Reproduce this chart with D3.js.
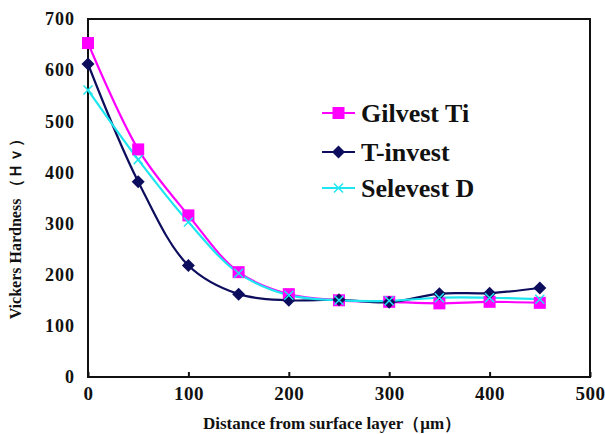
<!DOCTYPE html>
<html><head><meta charset="utf-8">
<script src="https://cdn.jsdelivr.net/npm/d3@7"></script>
<style>body{margin:0;background:#fff}svg{display:block}</style>
</head><body>
<svg id="c" width="605" height="434"></svg>
<script>
const distances = [0, 50, 100, 150, 200, 250, 300, 350, 400, 450];
const gilvestTi = [653, 445, 316, 205, 162, 150, 147, 144, 147, 145];
const tInvest   = [612, 382, 218, 162, 150, 151, 146, 163, 164, 174];
const selevestD = [561, 425, 303, 203, 160, 150, 149, 155, 155, 152];
const xTicks = [0, 100, 200, 300, 400, 500];
const yTicks = [0, 100, 200, 300, 400, 500, 600, 700];
const seriesNames = ["Gilvest Ti", "T-invest", "Selevest D"];

const series = [
  {name: seriesNames[0], values: gilvestTi, color: "#ff00ff", marker: "square"},
  {name: seriesNames[1], values: tInvest, color: "#0d0d5e", marker: "diamond"},
  {name: seriesNames[2], values: selevestD, color: "#1ee6f0", marker: "x"}
];

const svg = d3.select("#c");
const L = 88, R = 590, T = 19, B = 377;
const x = d3.scaleLinear().domain([0, 500]).range([L, R]);
const y = d3.scaleLinear().domain([0, 700]).range([B, T]);
const font = "'Liberation Serif','Times New Roman',serif";

// frame
svg.append("rect").attr("x", L).attr("y", T).attr("width", R - L).attr("height", B - T)
  .attr("fill", "none").attr("stroke", "#111").attr("stroke-width", 2);

// axes
const xAxis = d3.axisBottom(x).tickValues(xTicks).tickSize(-5).tickPadding(10).tickFormat(d3.format("d"));
const gx = svg.append("g").attr("transform", `translate(0,${B})`).call(xAxis);
gx.select(".domain").remove();
gx.selectAll("line").attr("stroke", "#111").attr("stroke-width", 2);
gx.selectAll("text").attr("font-family", font).attr("font-weight", "bold").attr("font-size", 19)
  .attr("fill", "#111").attr("letter-spacing", 0.5);

const yAxis = d3.axisLeft(y).tickValues(yTicks).tickSize(0).tickPadding(13).tickFormat(d3.format("d"));
const gy = svg.append("g").attr("transform", `translate(${L},0)`).call(yAxis);
gy.select(".domain").remove();
gy.selectAll("text").attr("font-family", font).attr("font-weight", "bold").attr("font-size", 18)
  .attr("fill", "#111").attr("letter-spacing", 1);

// titles
svg.append("text").attr("x", 332).attr("y", 429).attr("text-anchor", "middle")
  .attr("font-family", font).attr("font-weight", "bold").attr("font-size", 17).attr("fill", "#111")
  .text("Distance from surface layer（μm）");
svg.append("text").attr("transform", "translate(21,225) rotate(-90)").attr("text-anchor", "middle")
  .attr("font-family", font).attr("font-weight", "bold").attr("font-size", 16).attr("fill", "#111")
  .text("Vickers Hardness （Ｈｖ）");

const line = d3.line().x((d, i) => x(distances[i])).y(d => y(d)).curve(d3.curveCatmullRom.alpha(0.5));

function drawMarker(g, type, cx, cy, color) {
  if (type === "square") {
    g.append("rect").attr("x", cx - 6).attr("y", cy - 6).attr("width", 12).attr("height", 12).attr("fill", color);
  } else if (type === "diamond") {
    g.append("path").attr("d", `M${cx},${cy-6.5}L${cx+6.5},${cy}L${cx},${cy+6.5}L${cx-6.5},${cy}Z`).attr("fill", color);
  } else {
    g.append("path").attr("d", `M${cx-4.5},${cy-4.5}L${cx+4.5},${cy+4.5}M${cx-4.5},${cy+4.5}L${cx+4.5},${cy-4.5}`)
      .attr("stroke", color).attr("stroke-width", 1.5);
  }
}

series.forEach(s => {
  svg.append("path").datum(s.values).attr("d", line).attr("fill", "none")
    .attr("stroke", s.color).attr("stroke-width", 2.2);
});
series.forEach(s => {
  const g = svg.append("g");
  s.values.forEach((v, i) => drawMarker(g, s.marker, x(distances[i]), y(v), s.color));
});

// legend
const legY = [113, 152, 188];
series.forEach((s, i) => {
  const g = svg.append("g");
  g.append("line").attr("x1", 322).attr("x2", 355).attr("y1", legY[i]).attr("y2", legY[i])
    .attr("stroke", s.color).attr("stroke-width", 2.2);
  drawMarker(g, s.marker, 338.5, legY[i], s.color);
  g.append("text").attr("x", 361).attr("y", legY[i] + 9).attr("font-family", font)
    .attr("font-weight", "bold").attr("font-size", 26).attr("fill", "#111").text(s.name);
});
</script>
</body></html>
